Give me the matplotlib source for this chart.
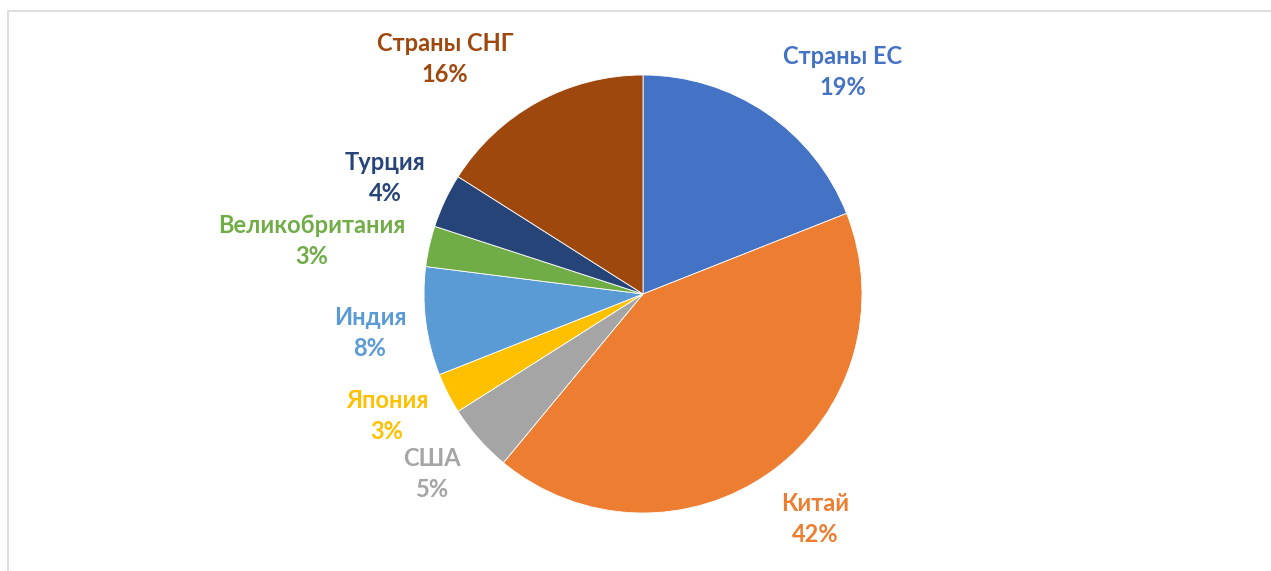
import matplotlib
matplotlib.use("Agg")
import matplotlib.pyplot as plt
from matplotlib.patches import Rectangle

# data
labels = ["Страны ЕС", "Китай", "США", "Япония", "Индия", "Великобритания", "Турция", "Страны СНГ"]
shares = [19, 42, 5, 3, 8, 3, 4, 16]
colors = ["#4472C4", "#ED7D31", "#A5A5A5", "#FFC000", "#5B9BD5", "#70AD47", "#264478", "#9E480E"]

# label centres in units of pie radius (layout only)
label_pos = [(0.913, 1.014), (0.785, -1.027), (-0.963, -0.822), (-1.169, -0.557),
             (-1.247, -0.178), (-1.511, 0.242), (-1.178, 0.530), (-0.904, 1.073)]

W, H = 1271, 571
cx, cy, R = 643, 294, 219

fig = plt.figure(figsize=(W / 100, H / 100), dpi=100)
ax = fig.add_axes([0, 0, 1, 1])

ax.pie(shares, colors=colors, startangle=90, counterclock=False,
       wedgeprops=dict(edgecolor="white", linewidth=0.6))

ax.set_xlim(-cx / R, (W - cx) / R)
ax.set_ylim(-(H - cy) / R, cy / R)
ax.set_aspect("auto")
ax.axis("off")

for lab, val, col, (x, y) in zip(labels, shares, colors, label_pos):
    ax.text(x, y, f"{lab}\n{val}%", color=col, ha="center", va="center",
            fontsize=17, fontweight="bold", family="Lato", linespacing=1.4)

# chart frame (light grey, cut off on right and bottom)
fig.patches.append(Rectangle((8 / W, -0.1), 1.2, (H - 11) / H + 0.1,
                             transform=fig.transFigure, fill=False,
                             edgecolor="#d9d9d9", linewidth=1.2))

fig.savefig("out.png", dpi=100)
